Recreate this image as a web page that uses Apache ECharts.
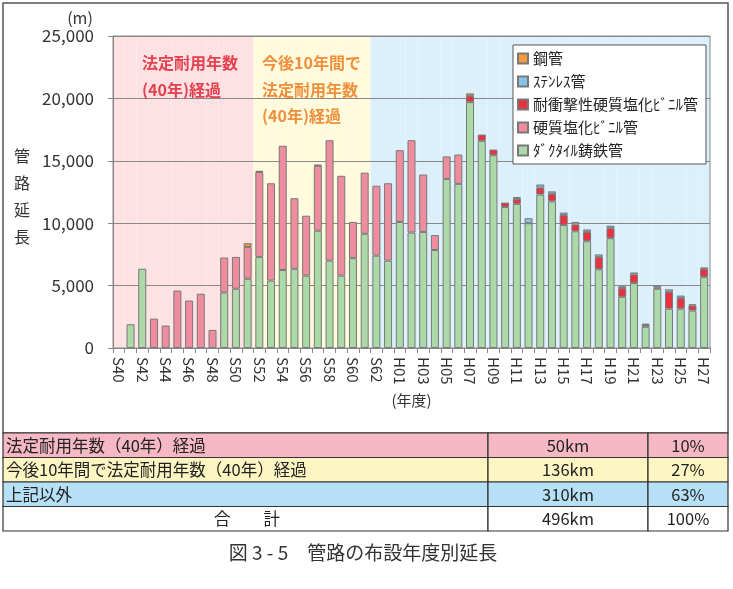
<!DOCTYPE html>
<html><head><meta charset="utf-8">
<script src="https://cdn.jsdelivr.net/npm/echarts@6/dist/echarts.min.js"></script>
<style>html,body{margin:0;padding:0;background:#fff}#c{width:733px;height:589px}</style>
</head><body><div id="c"></div>
<script>
const categories = ['S40','S41','S42','S43','S44','S45','S46','S47','S48','S49','S50','S51','S52','S53','S54','S55','S56','S57','S58','S59','S60','S61','S62','S63',
  'H01','H02','H03','H04','H05','H06','H07','H08','H09','H10','H11','H12','H13','H14','H15','H16','H17','H18','H19','H20','H21','H22','H23','H24','H25','H26','H27'];
const ductile   = [0,1900,6350,0,0,0,0,0,0,4450,4750,5550,7300,5400,6250,6350,5800,9400,7000,5800,7200,9150,7400,7000,
  10100,9250,9300,7850,13550,13150,19700,16600,15450,11300,11550,10000,12300,11750,9850,9350,8550,6300,8800,4100,5200,1700,4750,3150,3150,3000,5700];
const pvc       = [0,0,0,2350,1800,4600,3800,4350,1450,2800,2550,2550,6800,7800,9950,5650,4800,5200,9650,8000,2900,4900,5600,6200,
  5750,7400,4600,1200,1800,2350,0,0,0,0,0,0,0,0,0,0,0,0,0,0,0,0,0,0,0,0,0];
const impactPvc = [0,0,0,0,0,0,0,0,0,0,0,0,0,0,0,0,0,0,0,0,0,0,0,0,
  0,0,0,0,0,0,500,500,450,350,400,0,550,600,800,550,750,1000,800,700,700,150,100,1350,850,400,650];
const stainless = [0,0,0,0,0,0,0,0,0,0,0,0,0,0,0,0,0,0,0,0,0,0,0,0,
  0,0,0,0,0,0,0,0,0,0,150,400,250,200,200,200,200,200,200,150,150,100,150,200,200,100,100];
const steel     = [0,0,0,0,0,0,0,0,0,0,0,300,100,0,0,0,0,100,0,0,0,0,0,0,
  0,0,0,0,0,0,200,0,0,0,0,0,0,0,0,0,0,0,0,0,0,0,0,0,0,0,0];
const seriesNames = ['ﾀﾞｸﾀｲﾙ鋳鉄管','硬質塩化ﾋﾞﾆﾙ管','耐衝撃性硬質塩化ﾋﾞﾆﾙ管','ｽﾃﾝﾚｽ管','鋼管'];
const zoneCounts = [12, 10, 29];
const tableLabels = ['法定耐用年数（40年）経過','今後10年間で法定耐用年数（40年）経過','上記以外','合　　計'];
const tableKm = ['50km','136km','310km','496km'];
const tablePct = ['10%','27%','63%','100%'];

const FONT = '"Noto Sans CJK JP", "Noto Sans", sans-serif';
const seriesColors = ['#acd9a8','#ef8d9e','#e8323f','#86c3ea','#f39a3e'];
const bandColors = ['#fde1e3','#fffbdc','#dcf0fb'];
const rowColors = ['#f5b8c4','#fdf6c3','#b6e0f6','#ffffff'];

const zoneIdx = [];
zoneCounts.forEach((n, z) => { for (let i = 0; i < n; i++) zoneIdx.push(z); });

const values = [ductile, pvc, impactPvc, stainless, steel];
const mainSeries = values.map((arr, k) => ({
  name: seriesNames[k], type: 'bar', stack: 'total', barWidth: 8, z: 3,
  xAxisIndex: 0, yAxisIndex: 0,
  itemStyle: { color: seriesColors[k], borderColor: '#787878', borderWidth: 1 },
  data: arr.map(v => v === 0 ? null : v)
}));

const bandSeries = {
  type: 'bar', xAxisIndex: 1, yAxisIndex: 1, barCategoryGap: '0%', silent: true, z: 0,
  data: zoneIdx.map(z => ({ value: 1, itemStyle: { color: bandColors[z] } }))
};

const g = [];
g.push({ type: 'rect', z: 10, shape: { x: 3, y: 3, width: 725, height: 430 }, style: { fill: 'none', stroke: '#555', lineWidth: 1.5 } });
const rowTop = [433, 457.5, 482, 506.5];
const rowH = 24.5;
const colX = [3, 488, 648, 728];
const TF = '16.5px ' + FONT;
tableLabels.forEach((lab, r) => {
  const y = rowTop[r];
  for (let c = 0; c < 3; c++) {
    g.push({ type: 'rect', z: 10, shape: { x: colX[c], y, width: colX[c + 1] - colX[c], height: rowH }, style: { fill: rowColors[r], stroke: '#333', lineWidth: 1.2 } });
  }
  const isTotal = r === 3;
  g.push({ type: 'text', z: 11, x: isTotal ? 247 : 6, y: y + rowH / 2, style: { text: lab, fill: '#222', font: TF, textAlign: isTotal ? 'center' : 'left', textVerticalAlign: 'middle' } });
  g.push({ type: 'text', z: 11, x: (colX[1] + colX[2]) / 2, y: y + rowH / 2, style: { text: tableKm[r], fill: '#222', font: TF, textAlign: 'center', textVerticalAlign: 'middle' } });
  g.push({ type: 'text', z: 11, x: (colX[2] + colX[3]) / 2, y: y + rowH / 2, style: { text: tablePct[r], fill: '#222', font: TF, textAlign: 'center', textVerticalAlign: 'middle' } });
});
g.push({ type: 'text', z: 11, x: 363, y: 553, style: { text: '図 3 - 5　管路の布設年度別延長', fill: '#333', font: '19px ' + FONT, textAlign: 'center', textVerticalAlign: 'middle' } });
g.push({ type: 'text', z: 11, x: 80, y: 18, style: { text: '(m)', fill: '#333', font: '16px ' + FONT, textAlign: 'center', textVerticalAlign: 'middle' } });
g.push({ type: 'text', z: 11, x: 22, y: 142, style: { text: '管\n路\n延\n長', fill: '#333', font: '16px ' + FONT, lineHeight: 27, textAlign: 'center', textVerticalAlign: 'top' } });
g.push({ type: 'text', z: 11, x: 142, y: 50, style: { text: '法定耐用年数\n(40年)経過', fill: '#e4404f', font: 'bold 16px ' + FONT, lineHeight: 26.5, textAlign: 'left', textVerticalAlign: 'top' } });
g.push({ type: 'text', z: 11, x: 262, y: 50, style: { text: '今後10年間で\n法定耐用年数\n(40年)経過', fill: '#ef8f3c', font: 'bold 16px ' + FONT, lineHeight: 26.5, textAlign: 'left', textVerticalAlign: 'top' } });

const option = {
  animation: false,
  textStyle: { fontFamily: FONT },
  grid: { left: 113, right: 23, top: 36, bottom: 241, show: true, borderColor: '#888', borderWidth: 1, z: 1 },
  legend: {
    data: ['鋼管','ｽﾃﾝﾚｽ管','耐衝撃性硬質塩化ﾋﾞﾆﾙ管','硬質塩化ﾋﾞﾆﾙ管','ﾀﾞｸﾀｲﾙ鋳鉄管'],
    orient: 'vertical', left: 513, top: 45, itemWidth: 10, itemHeight: 10, itemGap: 8,
    padding: [6, 8, 6, 4], backgroundColor: '#fff', borderColor: '#555', borderWidth: 1,
    icon: 'rect', textStyle: { fontSize: 15, color: '#222', fontFamily: FONT }, z: 5
  },
  xAxis: [
    { type: 'category', data: categories, z: 1,
      axisLine: { lineStyle: { color: '#888' } },
      axisTick: { show: true, interval: 0, length: 5, lineStyle: { color: '#888' } },
      axisLabel: { interval: 1, rotate: -90, fontSize: 15, color: '#333', margin: 9, fontFamily: FONT },
      name: '(年度)', nameLocation: 'middle', nameGap: 42,
      nameTextStyle: { fontSize: 15, color: '#333', fontFamily: FONT } },
    { type: 'category', data: categories, show: false, gridIndex: 0 }
  ],
  yAxis: [
    { type: 'value', min: 0, max: 25000, interval: 5000, z: 1,
      axisLine: { show: true, lineStyle: { color: '#888' } },
      axisTick: { show: true, length: 5, lineStyle: { color: '#888' } },
      splitLine: { lineStyle: { color: '#888', width: 1 } },
      axisLabel: { fontSize: 17, color: '#333', margin: 19, fontFamily: FONT } },
    { type: 'value', min: 0, max: 1, show: false }
  ],
  series: [bandSeries].concat(mainSeries),
  graphic: g
};
const chart = echarts.init(document.getElementById('c'));
chart.setOption(option);
</script>
</body></html>
